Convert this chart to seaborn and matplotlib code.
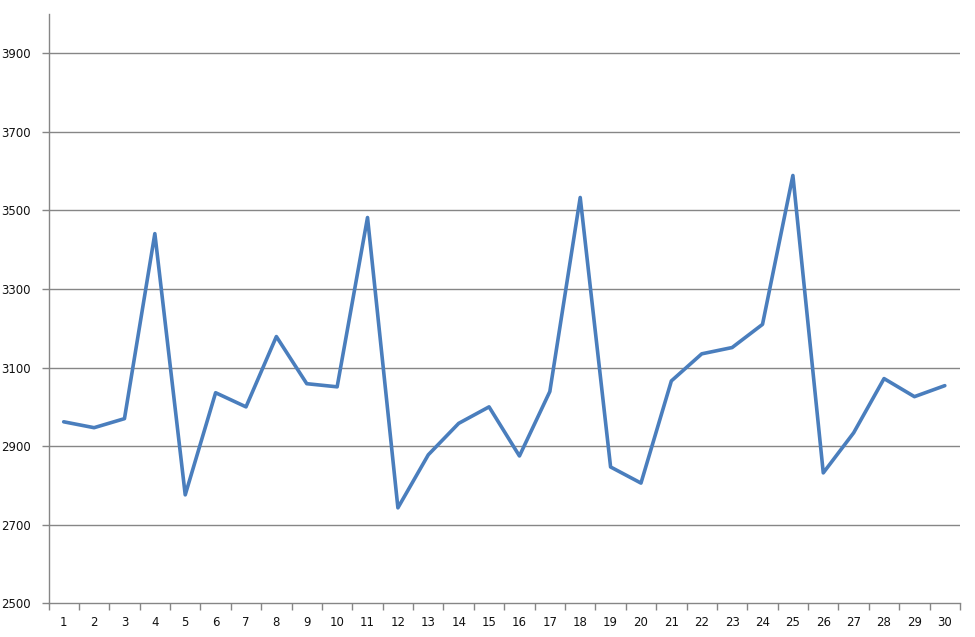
import numpy as np
import pandas as pd
import matplotlib
matplotlib.use("Agg")
import matplotlib.pyplot as plt
import seaborn as sns

# data
days = list(range(1, 31))
values = [2962, 2947, 2970, 3441, 2776, 3036, 3000, 3179, 3059, 3051,
          3482, 2743, 2878, 2958, 3000, 2875, 3039, 3533, 2847, 2806,
          3066, 3135, 3151, 3210, 3589, 2832, 2934, 3072, 3026, 3054]
y_ticks = [2500, 2700, 2900, 3100, 3300, 3500, 3700, 3900]

df = pd.DataFrame({"day": days, "value": values})

sns.set_theme(style="white")
plt.rcParams["font.family"] = ["DejaVu Sans"]

GRID = "#868686"
LINE = "#4A7EBD"

fig = plt.figure(figsize=(9.75, 6.37), dpi=100)
ax = fig.add_axes([48.5 / 975, 1 - 603.3 / 637, (960 - 48.5) / 975, (603.3 - 14) / 637])

sns.lineplot(data=df, x="day", y="value", ax=ax, color=LINE, linewidth=2.6,
             solid_joinstyle="round", solid_capstyle="round")

ax.set_xlim(0.5, 30.5)
ax.set_ylim(2500, 4000)
ax.set_yticks(y_ticks)
ax.set_yticklabels([str(t) for t in y_ticks], fontsize=8.5, color="#111111")
for t in y_ticks[1:]:
    ax.axhline(t, color=GRID, lw=1, zorder=0)

ax.set_xticks(days)
ax.set_xticklabels([str(d) for d in days], fontsize=8.5, color="#111111")
ax.set_xticks(np.arange(0.5, 31, 1), minor=True)
ax.tick_params(axis="x", which="both", bottom=True)
ax.tick_params(axis="y", which="major", left=True)
ax.tick_params(axis="x", which="major", length=0, pad=9)
ax.tick_params(axis="x", which="minor", length=5, color=GRID, width=1, direction="out")
ax.tick_params(axis="y", which="major", length=5, color=GRID, width=1, direction="out", pad=8)
ax.set_xlabel("")
ax.set_ylabel("")

for s in ["top", "right"]:
    ax.spines[s].set_visible(False)
for s in ["left", "bottom"]:
    ax.spines[s].set_color(GRID)
    ax.spines[s].set_linewidth(1)

fig.savefig("out.png", dpi=100)
